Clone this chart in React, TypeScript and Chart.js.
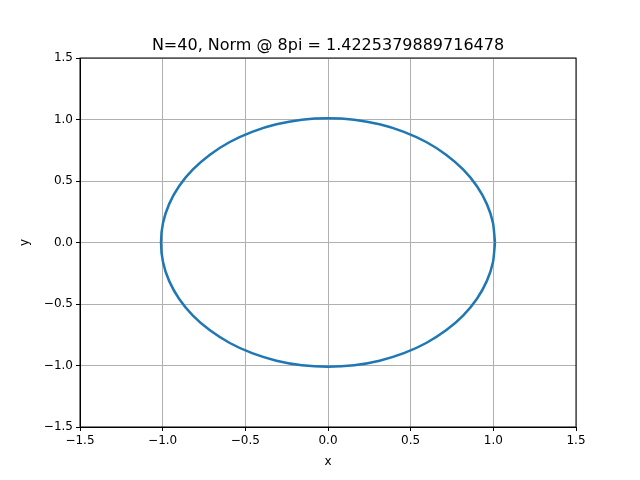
import { Chart, registerables } from "chart.js";
import { useEffect, useRef } from "react";

Chart.register(...registerables);

const titleText = "N=40, Norm @ 8pi = 1.4225379889716478";
const xLabel = "x";
const yLabel = "y";

const orbitX = [
  1.01, 0.998, 0.961, 0.9, 0.817, 0.714, 0.594, 0.459, 0.312, 0.158, 0.0,
  -0.158, -0.312, -0.459, -0.594, -0.714, -0.817, -0.9, -0.961, -0.998, -1.01,
  -0.998, -0.961, -0.9, -0.817, -0.714, -0.594, -0.459, -0.312, -0.158, 0.0,
  0.158, 0.312, 0.459, 0.594, 0.714, 0.817, 0.9, 0.961, 0.998, 1.01,
];
const orbitY = [
  0.0, 0.158, 0.312, 0.459, 0.594, 0.714, 0.817, 0.9, 0.961, 0.998, 1.01,
  0.998, 0.961, 0.9, 0.817, 0.714, 0.594, 0.459, 0.312, 0.158, 0.0,
  -0.158, -0.312, -0.459, -0.594, -0.714, -0.817, -0.9, -0.961, -0.998, -1.01,
  -0.998, -0.961, -0.9, -0.817, -0.714, -0.594, -0.459, -0.312, -0.158, 0.0,
];

const font = { family: "DejaVu Sans", size: 12 };
const fmt = (v: string | number) => Number(v).toFixed(1).replace("-", "\u2212");

export default function App() {
  const canvasRef = useRef<HTMLCanvasElement>(null);

  useEffect(() => {
    if (!canvasRef.current) return;
    const labelsPlugin = {
      id: "mplLabels",
      afterDraw(chart: Chart) {
        const { ctx, chartArea } = chart;
        const cx = (chartArea.left + chartArea.right) / 2;
        const cy = (chartArea.top + chartArea.bottom) / 2;
        ctx.save();
        ctx.fillStyle = "#000";
        ctx.textAlign = "center";
        ctx.font = "16px 'DejaVu Sans'";
        ctx.textBaseline = "alphabetic";
        ctx.fillText(titleText, cx, chartArea.top - 8);
        ctx.font = "12px 'DejaVu Sans'";
        ctx.textBaseline = "middle";
        ctx.fillText(xLabel, cx, chartArea.bottom + 35);
        ctx.translate(25, cy);
        ctx.rotate(-Math.PI / 2);
        ctx.fillText(yLabel, 0, 0);
        ctx.restore();
        ctx.save();
        ctx.strokeStyle = "#000";
        ctx.lineWidth = 1;
        ctx.strokeRect(chartArea.left, chartArea.top, chartArea.right - chartArea.left, chartArea.bottom - chartArea.top);
        ctx.restore();
      },
    };
    const chart = new Chart(canvasRef.current, {
      type: "scatter",
      data: {
        datasets: [
          {
            data: orbitX.map((x, i) => ({ x, y: orbitY[i] })),
            showLine: true,
            borderColor: "#1f77b4",
            borderWidth: 2.5,
            pointRadius: 0,
            tension: 0.2,
          },
        ],
      },
      options: {
        responsive: false,
        animation: false,
        layout: { padding: { top: 58, right: 64, left: 0, bottom: 0 } },
        plugins: { legend: { display: false }, tooltip: { enabled: false } },
        scales: {
          x: {
            min: -1.5,
            max: 1.5,
            ticks: { stepSize: 0.5, color: "#000", font, callback: fmt },
            grid: { color: "#b0b0b0", tickColor: "#000", tickLength: 4 },
            border: { color: "#000" },
            afterFit: (s) => { s.height = 53; },
          },
          y: {
            min: -1.5,
            max: 1.5,
            ticks: { stepSize: 0.5, color: "#000", font, callback: fmt },
            grid: { color: "#b0b0b0", tickColor: "#000", tickLength: 4 },
            border: { color: "#000" },
            afterFit: (s) => { s.width = 80; },
          },
        },
      },
      plugins: [labelsPlugin],
    });
    return () => chart.destroy();
  }, []);

  return (
    <div style={{ position: "fixed", left: 0, top: 0, width: 640, height: 480, background: "#fff" }}>
      <canvas ref={canvasRef} width={640} height={480} />
    </div>
  );
}
